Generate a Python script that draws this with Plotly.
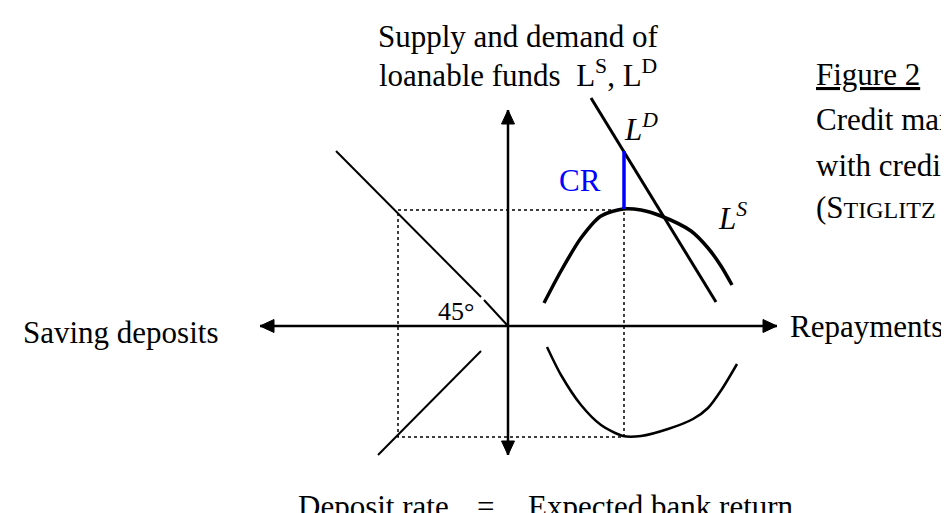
import plotly.graph_objects as go

# points, in pixels relative to the origin (y up)
ls_x = [36, 53, 73, 93, 115, 133, 153, 183, 200, 213, 224]
ls_y = [23, 55, 88, 110, 117, 116, 110, 95, 78, 60, 41]

ret_x = [39, 53, 73, 93, 115, 133, 160, 185, 200, 214, 229]
ret_y = [-21, -49, -79, -99, -110, -110, -103, -93, -82, -63, -38]

ld_x = [83, 208]
ld_y = [228, 24]

# 45 degree lines (upper one broken next to the label)
deg_up_x = [-172, -27, None, -24, 0]
deg_up_y = [175, 29, None, 26, 0]
deg_low_x = [-27, -130]
deg_low_y = [-25, -129]

# equilibrium box and credit rationing gap
box_x = [-110, 116, 116, -110, -110]
box_y = [116, 116, -111, -111, 116]
cr_x = [116, 116]
cr_y = [175, 117]

# axis ends (arrow tips)
axis_tips = [(0, 216), (0, -129), (-248, 0), (269, 0)]

FONT = 'Liberation Serif'

fig = go.Figure()

fig.add_trace(go.Scatter(x=box_x, y=box_y, mode='lines',
                         line=dict(color='black', width=1.5, dash='dot')))
fig.add_trace(go.Scatter(x=deg_up_x, y=deg_up_y, mode='lines',
                         line=dict(color='black', width=2)))
fig.add_trace(go.Scatter(x=deg_low_x, y=deg_low_y, mode='lines',
                         line=dict(color='black', width=2)))
fig.add_trace(go.Scatter(x=ls_x, y=ls_y, mode='lines',
                         line=dict(color='black', width=3.5, shape='spline', smoothing=0.8)))
fig.add_trace(go.Scatter(x=ret_x, y=ret_y, mode='lines',
                         line=dict(color='black', width=2.5, shape='spline', smoothing=0.8)))
fig.add_trace(go.Scatter(x=ld_x, y=ld_y, mode='lines',
                         line=dict(color='black', width=3)))
fig.add_trace(go.Scatter(x=cr_x, y=cr_y, mode='lines',
                         line=dict(color='#0000ff', width=3.5)))

# axes: line from origin to each tip, plus a filled arrow head
for tx, ty in axis_tips:
    fig.add_trace(go.Scatter(x=[0, tx], y=[0, ty], mode='lines',
                             line=dict(color='black', width=2.5)))
    n = (tx ** 2 + ty ** 2) ** 0.5
    dx, dy = tx / n, ty / n
    bx, by = tx - 14 * dx, ty - 14 * dy
    fig.add_trace(go.Scatter(x=[tx, bx - 6.5 * dy, bx + 6.5 * dy, tx],
                             y=[ty, by + 6.5 * dx, by - 6.5 * dx, ty],
                             mode='lines', fill='toself', fillcolor='black',
                             line=dict(color='black', width=1)))

def label(txt, x, y, anchor='center', size=31, color='black'):
    fig.add_annotation(x=x, y=y, text=txt, showarrow=False, xanchor=anchor,
                       yanchor='middle', font=dict(family=FONT, size=size, color=color))

label('Supply and demand of', 10, 290)
label('loanable funds  L<sup>S</sup>, L<sup>D</sup>', 10, 253)
label('<u>Figure 2</u>', 306, 252, 'left')
label('Credit market equilibrium', 306, 207, 'left')
label('with credit rationing', 306, 161, 'left')
label("(S<span style='font-size:24px'>TIGLITZ</span> / "
      "W<span style='font-size:24px'>EISS</span> 1981)", 306, 119, 'left')
label('<i>L<sup>D</sup></i>', 114, 199, 'left')
label('<i>L<sup>S</sup></i>', 208, 110, 'left')
label('CR', 72, 146, color='#0000ff')
label('45°', -52, 15, size=26)
label('Saving deposits', -388, -6)
label('Repayments', 280, 0, 'left')
label('Deposit rate', -212, -180, 'left')
label('=', -23, -180)
label('Expected bank return', 18, -180, 'left')

fig.update_layout(width=949, height=513, margin=dict(l=0, r=0, t=0, b=0),
                  paper_bgcolor='white', plot_bgcolor='white', showlegend=False,
                  xaxis=dict(range=[-500, 449], visible=False, fixedrange=True),
                  yaxis=dict(range=[-195, 318], visible=False, fixedrange=True))

fig.write_html('out.html')
